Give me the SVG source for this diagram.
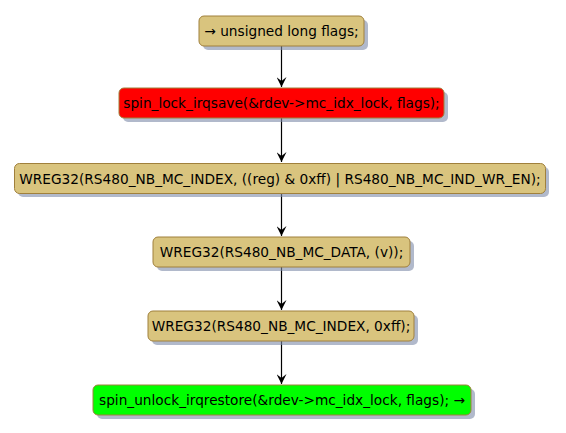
<svg xmlns="http://www.w3.org/2000/svg" width="566" height="433" viewBox="0 0 566 433">
<defs>
<style>
.act{fill:#D9C47E;stroke:#A0803C;stroke-width:1}
.sh{fill:#7D8BA8;opacity:0.6}
.t{font-family:"DejaVu Sans",sans-serif;font-size:13.7px;fill:#000;text-anchor:middle}
.ln{stroke:#000;stroke-width:1.2;fill:none}
</style>
<marker id="ah" markerWidth="11" markerHeight="10" refX="10" refY="5" orient="auto" markerUnits="userSpaceOnUse" viewBox="0 0 11 10">
<path d="M0,0 L10,5 L0,10 L4,5 Z" fill="#000"/>
</marker>
</defs>
<rect width="566" height="433" fill="#fff"/>
<g id="connectors">
<line class="ln" x1="281.5" y1="46" x2="281.5" y2="87" marker-end="url(#ah)"/>
<line class="ln" x1="281.5" y1="118" x2="281.5" y2="162" marker-end="url(#ah)"/>
<line class="ln" x1="281.5" y1="193" x2="281.5" y2="236" marker-end="url(#ah)"/>
<line class="ln" x1="281.5" y1="267" x2="281.5" y2="310" marker-end="url(#ah)"/>
<line class="ln" x1="281.5" y1="341" x2="281.5" y2="384" marker-end="url(#ah)"/>
</g>
<g id="n1">
<rect class="sh" x="203" y="20" width="165" height="30" rx="5"/>
<rect class="act" x="199" y="16" width="165" height="30" rx="5"/>
<text class="t" x="281.5" y="36">→ unsigned long flags;</text>
</g>
<g id="n2">
<rect class="sh" x="123" y="92" width="325" height="30" rx="5"/>
<rect x="119" y="88" width="325" height="30" rx="5" fill="#FF0000" stroke="#A0803C"/>
<text class="t" x="281.5" y="108">spin_lock_irqsave(&amp;rdev-&gt;mc_idx_lock, flags);</text>
</g>
<g id="n3">
<rect class="sh" x="18" y="167" width="531" height="30" rx="5"/>
<rect class="act" x="14.5" y="163.5" width="531" height="30" rx="5"/>
<text class="t" x="280" y="183.5">WREG32(RS480_NB_MC_INDEX, ((reg) &amp; 0xff) | RS480_NB_MC_IND_WR_EN);</text>
</g>
<g id="n4">
<rect class="sh" x="157" y="241" width="257" height="30" rx="5"/>
<rect class="act" x="153" y="237" width="257" height="30" rx="5"/>
<text class="t" x="281.5" y="257">WREG32(RS480_NB_MC_DATA, (v));</text>
</g>
<g id="n5">
<rect class="sh" x="152" y="315" width="266" height="30" rx="5"/>
<rect class="act" x="148" y="311" width="266" height="30" rx="5"/>
<text class="t" x="281" y="331">WREG32(RS480_NB_MC_INDEX, 0xff);</text>
</g>
<g id="n6">
<rect class="sh" x="97" y="389" width="378" height="30" rx="5"/>
<rect x="93" y="385" width="378" height="30" rx="5" fill="#00FF00" stroke="#A0803C"/>
<text class="t" x="282" y="405">spin_unlock_irqrestore(&amp;rdev-&gt;mc_idx_lock, flags); →</text>
</g>
</svg>
